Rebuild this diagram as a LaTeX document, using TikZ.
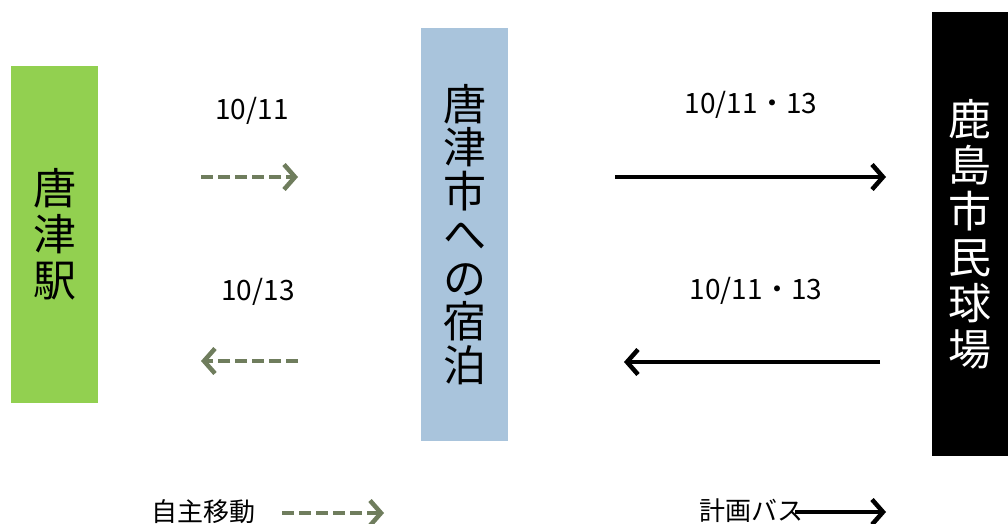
\documentclass[tikz,border=0pt]{standalone}
\usepackage{fontspec}
\setmainfont{Noto Sans CJK JP}
\usetikzlibrary{arrows.meta, positioning}

\definecolor{stationgreen}{HTML}{92D050}
\definecolor{hotelblue}{HTML}{A9C4DC}
\definecolor{walkgrey}{HTML}{6F7D5D}

\tikzset{
  place/.style={minimum width=87pt, inner sep=0pt, align=center},
  walk/.style={line width=4.5pt, walkgrey, dash pattern=on 12pt off 5pt,
    -{Straight Barb[length=11pt, width=25pt, line width=4.5pt]}},
  bus/.style={line width=4.5pt, black,
    -{Straight Barb[length=11pt, width=25pt, line width=4.5pt]}},
  date/.style={font=\fontsize{28}{28}\selectfont},
  legend/.style={font=\fontsize{26}{26}\selectfont},
}

\begin{document}
\begin{tikzpicture}[x=1pt, y=-1pt]
  \useasboundingbox (0,0) rectangle (1008,524);

  % places
  \node (station) at (54.5,234.5) [place, fill=stationgreen, minimum height=337pt,
    font=\fontsize{43}{46}\selectfont] {唐\\津\\駅};
  \node (hotel) at (464.5,234.5) [place, fill=hotelblue, minimum height=413pt,
    font=\fontsize{43}{43.5}\selectfont] {唐\\津\\市\\へ\\の\\宿\\泊};
  \node (stadium) at (970,234) [place, fill=black, text=white, minimum width=76pt,
    minimum height=444pt, font=\fontsize{43}{46}\selectfont] {鹿\\島\\市\\民\\球\\場};

  % walking
  \coordinate (w1) at (201,177);
  \coordinate (w2) at (298,177);
  \coordinate (w3) at (298,361);
  \coordinate (w4) at (201,361);
  \draw [walk] (w1) -- (w2);
  \draw [walk] (w3) -- (w4);
  \node (d1) at (252,111) [date] {10/11};
  \node (d2) at (258,292) [date] {10/13};

  % bus
  \coordinate (b1) at (615,177);
  \coordinate (b2) at (886,177);
  \coordinate (b3) at (880,362);
  \coordinate (b4) at (624,362);
  \draw [bus] (b1) -- (b2);
  \draw [bus] (b3) -- (b4);
  \node (d3) at (751,105) [date] {10/11・13};
  \node (d4) at (756,291) [date] {10/11・13};

  % legend
  \node (lwalk) at (203,512) [legend] {自主移動};
  \coordinate (lw1) at (282,513);
  \coordinate (lw2) at (384,513);
  \draw [walk] (lw1) -- (lw2);
  \node (lbus) at (751,511) [legend] {計画バス};
  \coordinate (lb1) at (795,512);
  \coordinate (lb2) at (886,512);
  \draw [bus] (lb1) -- (lb2);
\end{tikzpicture}
\end{document}
